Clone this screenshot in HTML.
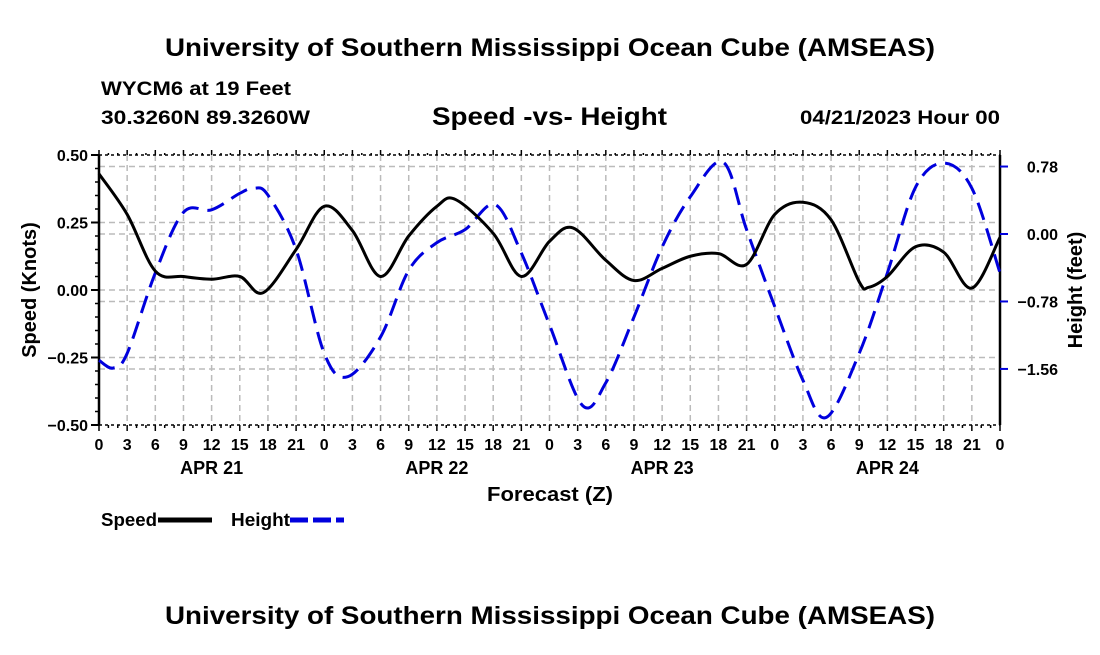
<!DOCTYPE html>
<html><head><meta charset="utf-8"><style>
body{margin:0;background:#fff;}
svg text{font-family:"Liberation Sans",Arial,sans-serif;font-weight:bold;fill:#000;}
</style></head><body>
<svg id="c" width="1100" height="650" viewBox="0 0 1100 650">
<text x="165" y="56" font-size="25" textLength="770" lengthAdjust="spacingAndGlyphs">University of Southern Mississippi Ocean Cube (AMSEAS)</text>
<text x="101" y="95" font-size="19" textLength="190" lengthAdjust="spacingAndGlyphs">WYCM6 at 19 Feet</text>
<text x="101" y="124" font-size="19" textLength="209" lengthAdjust="spacingAndGlyphs">30.3260N  89.3260W</text>
<text x="432" y="125" font-size="25" textLength="235" lengthAdjust="spacingAndGlyphs">Speed -vs- Height</text>
<text x="800" y="124" font-size="19" textLength="200" lengthAdjust="spacingAndGlyphs">04/21/2023 Hour 00</text>
<g id="grid"></g><g id="axes"></g><g id="series"></g>
<text transform="translate(36,290) rotate(-90)" font-size="20" text-anchor="middle">Speed (Knots)</text>
<text transform="translate(1082,290) rotate(-90)" font-size="20" text-anchor="middle">Height (feet)</text>
<text x="487" y="501" font-size="20" textLength="126" lengthAdjust="spacingAndGlyphs">Forecast (Z)</text>
<g>
<text x="101" y="526" font-size="18" textLength="56" lengthAdjust="spacingAndGlyphs">Speed</text>
<line x1="158" y1="520" x2="212" y2="520" stroke="#000" stroke-width="5"/>
<text x="231" y="526" font-size="18" textLength="59" lengthAdjust="spacingAndGlyphs">Height</text>
<line x1="290" y1="520" x2="344" y2="520" stroke="#0000dd" stroke-width="5" stroke-dasharray="18,5"/>
</g>
<text x="165" y="624" font-size="25" textLength="770" lengthAdjust="spacingAndGlyphs">University of Southern Mississippi Ocean Cube (AMSEAS)</text>
</svg>
<script>
const speedHours=[0,3,6,9,12,15,17.5,21,24,27,30,33,36,38,42,45,48,50.5,54,57,60,63,66,69,72,75,78,81,82,84,87,90,93,96];
const speedValues=[0.43,0.28,0.07,0.05,0.04,0.05,-0.01,0.15,0.31,0.22,0.05,0.20,0.31,0.335,0.21,0.05,0.18,0.23,0.11,0.035,0.08,0.125,0.135,0.095,0.28,0.325,0.26,0.03,0.01,0.05,0.16,0.14,0.007,0.195];
const heightHours=[0,1.5,3,6,9,12,15,16.5,18,21,24,26.5,30,33,36,39,42.2,45,48,51.5,54,57,60,63,66.5,69,72,75,77.5,81,84,87,90,93,96];
const heightValues=[-1.46,-1.55,-1.38,-0.45,0.25,0.28,0.47,0.53,0.45,-0.18,-1.38,-1.65,-1.19,-0.42,-0.10,0.05,0.34,-0.22,-1.05,-1.98,-1.72,-0.96,-0.15,0.43,0.83,0.05,-0.84,-1.69,-2.12,-1.38,-0.45,0.54,0.82,0.53,-0.45];
const speedTicks=[0.5,0.25,0,-0.25,-0.5];
const speedTickLabels=["0.50","0.25","0.00","\u22120.25","\u22120.50"];
const heightTicks=[0.78,0,-0.78,-1.56];
const heightTickLabels=["0.78","0.00","\u22120.78","\u22121.56"];
const hourLabels=["0","3","6","9","12","15","18","21"];
const dayLabels=["APR 21","APR 22","APR 23","APR 24"];

const NS="http://www.w3.org/2000/svg";
const X0=99,X1=1000,YT=155,YB=425;
const xs=h=>X0+h*(X1-X0)/96;
const ys=s=>YT+(0.5-s)*(YB-YT);
const yh=h=>234-h*86.5;
function mk(tag,attrs,parent){const e=document.createElementNS(NS,tag);for(const k in attrs)e.setAttribute(k,attrs[k]);parent.appendChild(e);return e;}
const grid=document.getElementById('grid'),axes=document.getElementById('axes'),series=document.getElementById('series');
for(let h=3;h<96;h+=3){const l=mk('line',{x1:xs(h),x2:xs(h),y1:YT,y2:YB,stroke:'#bbb','stroke-width':1.5,'stroke-dasharray':'6,4'},grid);

}
speedTicks.forEach(s=>{if(s===0.5||s===-0.5)return;const l=mk('line',{x1:X0,x2:X1,y1:ys(s),y2:ys(s),stroke:'#bbb','stroke-width':1.5,'stroke-dasharray':'6,4'},grid);

});
heightTicks.forEach(h=>{const l=mk('line',{x1:X0,x2:X1,y1:yh(h),y2:yh(h),stroke:'#bbb','stroke-width':1.5,'stroke-dasharray':'6,4'},grid);

});
mk('line',{x1:X0,x2:X0,y1:YT,y2:YB,stroke:'#000','stroke-width':2.5},axes);
mk('line',{x1:X1,x2:X1,y1:YT,y2:YB,stroke:'#000','stroke-width':2.5},axes);
mk('line',{x1:X0,x2:X1,y1:YT,y2:YT,stroke:'#000','stroke-width':1.5,'stroke-dasharray':'3,3'},axes);
mk('line',{x1:X0,x2:X1,y1:YB,y2:YB,stroke:'#000','stroke-width':1.5,'stroke-dasharray':'3,3'},axes);
for(let h=0;h<=96;h++){const m=h%3===0;
mk('line',{x1:xs(h),x2:xs(h),y1:YT,y2:YT-(m?5:2),stroke:'#000','stroke-width':1.5},axes);
mk('line',{x1:xs(h),x2:xs(h),y1:YB,y2:YB+(m?6:3),stroke:'#000','stroke-width':1.5},axes);}
for(let s=-0.5;s<=0.501;s+=0.05){mk('line',{x1:X0-4,x2:X0,y1:ys(s),y2:ys(s),stroke:'#000','stroke-width':1.5},axes);}
speedTicks.forEach((s,i)=>{mk('line',{x1:X0-8,x2:X0,y1:ys(s),y2:ys(s),stroke:'#000','stroke-width':2},axes);
const t=mk('text',{x:X0-11,y:ys(s)+6,'font-size':16,'text-anchor':'end'},axes);t.textContent=speedTickLabels[i];

});
heightTicks.forEach((h,i)=>{mk('line',{x1:X1,x2:X1+8,y1:yh(h),y2:yh(h),stroke:'#0000dd','stroke-width':2},axes);
const t=mk('text',{x:1058,y:yh(h)+6,'font-size':16,'text-anchor':'end'},axes);t.textContent=heightTickLabels[i];

});
for(let h=0;h<=96;h+=3){const t=mk('text',{x:xs(h),y:450,'font-size':16,'text-anchor':'middle'},axes);t.textContent=h===96?"0":hourLabels[(h%24)/3];

}
dayLabels.forEach((d,i)=>{const t=mk('text',{x:xs(i*24+12),y:474,'font-size':18,'text-anchor':'middle'},axes);t.textContent=d;

});
function smooth(pts){let d=`M${pts[0][0]},${pts[0][1]}`;for(let i=0;i<pts.length-1;i++){const p0=pts[Math.max(0,i-1)],p1=pts[i],p2=pts[i+1],p3=pts[Math.min(pts.length-1,i+2)];
d+=` C${p1[0]+(p2[0]-p0[0])/6},${p1[1]+(p2[1]-p0[1])/6} ${p2[0]-(p3[0]-p1[0])/6},${p2[1]-(p3[1]-p1[1])/6} ${p2[0]},${p2[1]}`;}return d;}
const hp=mk('path',{d:smooth(heightHours.map((h,i)=>[xs(h),yh(heightValues[i])])),fill:'none',stroke:'#0000dd','stroke-width':3,'stroke-dasharray':'18,9'},series);


const sp=mk('path',{d:smooth(speedHours.map((h,i)=>[xs(h),ys(speedValues[i])])),fill:'none',stroke:'#000','stroke-width':3},series);


</script>
</body></html>
